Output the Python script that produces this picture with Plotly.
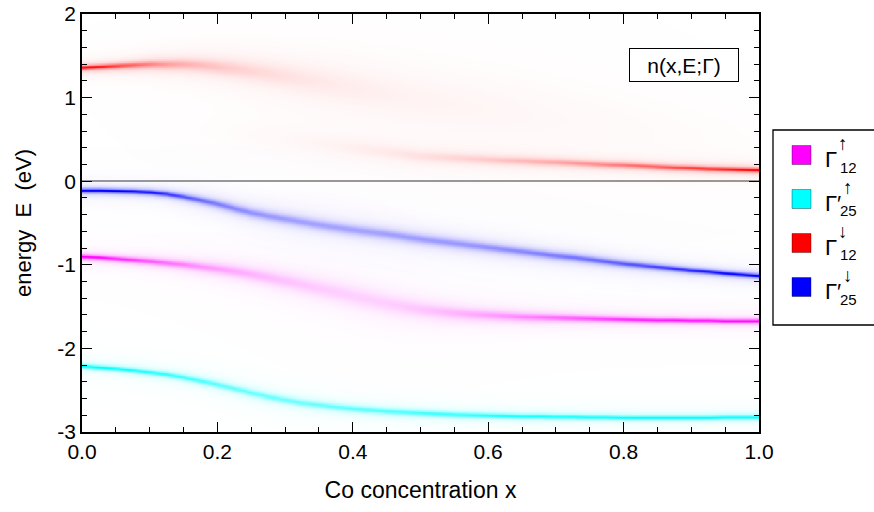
import numpy as np
import plotly.graph_objects as go

# ---------------- data ----------------
conc = [0.000, 0.025, 0.050, 0.075, 0.100, 0.125, 0.150, 0.175, 0.200, 0.225,
        0.250, 0.275, 0.300, 0.325, 0.350, 0.375, 0.400, 0.425, 0.450, 0.475,
        0.500, 0.525, 0.550, 0.575, 0.600, 0.625, 0.650, 0.675, 0.700, 0.725,
        0.750, 0.775, 0.800, 0.825, 0.850, 0.875, 0.900, 0.925, 0.950, 0.975, 1.000]

# Gamma'25 spin down (blue): band centre (eV) and broadening (eV)
blue_E = [-0.11, -0.11, -0.115, -0.12, -0.13, -0.15, -0.185, -0.225, -0.27, -0.325,
          -0.375, -0.415, -0.45, -0.485, -0.52, -0.55, -0.58, -0.605, -0.63, -0.66,
          -0.69, -0.715, -0.74, -0.765, -0.79, -0.815, -0.84, -0.865, -0.89, -0.91,
          -0.935, -0.96, -0.985, -1.005, -1.025, -1.045, -1.065, -1.08, -1.10, -1.115, -1.13]
blue_w = [0.02, 0.02, 0.02, 0.021, 0.022, 0.025, 0.029, 0.034, 0.039, 0.043,
          0.047, 0.05, 0.052, 0.054, 0.055, 0.055, 0.055, 0.055, 0.054, 0.053,
          0.052, 0.051, 0.05, 0.049, 0.047, 0.045, 0.043, 0.041, 0.039, 0.037,
          0.035, 0.033, 0.031, 0.029, 0.027, 0.025, 0.024, 0.022, 0.021, 0.02, 0.02]

# Gamma12 spin up (magenta)
mag_E = [-0.90, -0.91, -0.925, -0.94, -0.955, -0.975, -0.995, -1.02, -1.045, -1.075,
         -1.11, -1.15, -1.19, -1.235, -1.28, -1.325, -1.37, -1.415, -1.46, -1.50,
         -1.53, -1.555, -1.575, -1.59, -1.60, -1.61, -1.62, -1.625, -1.63, -1.635,
         -1.64, -1.645, -1.65, -1.655, -1.66, -1.66, -1.665, -1.665, -1.67, -1.67, -1.67]
mag_w = [0.02, 0.021, 0.023, 0.026, 0.03, 0.035, 0.04, 0.046, 0.052, 0.06,
         0.068, 0.076, 0.084, 0.092, 0.1, 0.106, 0.11, 0.11, 0.106, 0.098,
         0.088, 0.078, 0.068, 0.06, 0.053, 0.047, 0.042, 0.038, 0.034, 0.031,
         0.029, 0.027, 0.025, 0.024, 0.023, 0.022, 0.021, 0.021, 0.02, 0.02, 0.02]

# Gamma'25 spin up (cyan)
cyan_E = [-2.21, -2.225, -2.24, -2.26, -2.285, -2.31, -2.345, -2.385, -2.43, -2.48,
          -2.53, -2.575, -2.615, -2.65, -2.675, -2.70, -2.72, -2.735, -2.75, -2.76,
          -2.77, -2.78, -2.79, -2.795, -2.80, -2.805, -2.81, -2.81, -2.815, -2.815,
          -2.82, -2.82, -2.825, -2.825, -2.825, -2.825, -2.825, -2.825, -2.82, -2.82, -2.82]
cyan_w = [0.02, 0.02, 0.021, 0.022, 0.023, 0.025, 0.027, 0.029, 0.031, 0.033,
          0.034, 0.035, 0.035, 0.035, 0.034, 0.033, 0.032, 0.031, 0.03, 0.029,
          0.028, 0.027, 0.026, 0.025, 0.024, 0.023, 0.023, 0.022, 0.022, 0.021,
          0.021, 0.021, 0.021, 0.02, 0.02, 0.02, 0.02, 0.02, 0.02, 0.02, 0.02]

# Gamma12 spin down (red): Fe-like upper branch and Co-like lower branch
red_up_E = [1.36, 1.37, 1.38, 1.39, 1.40, 1.40, 1.40, 1.39, 1.37, 1.35,
            1.32, 1.29, 1.26, 1.225, 1.19, 1.155, 1.12, 1.085, 1.05, 1.015,
            0.98, 0.95, 0.92, 0.895, 0.87, 0.845, 0.82, 0.795, 0.77, 0.75,
            0.73, 0.71, 0.69, 0.67, 0.65, 0.635, 0.62, 0.61, 0.60, 0.59, 0.58]
red_up_w = [0.02, 0.022, 0.026, 0.032, 0.04, 0.05, 0.06, 0.07, 0.08, 0.095,
            0.11, 0.125, 0.14, 0.16, 0.18, 0.2, 0.22, 0.24, 0.26, 0.28,
            0.30, 0.31, 0.32, 0.33, 0.34, 0.35, 0.36, 0.37, 0.38, 0.385,
            0.39, 0.395, 0.40, 0.40, 0.40, 0.40, 0.40, 0.40, 0.40, 0.40, 0.40]
red_up_wt = [1.0, 0.99, 0.98, 0.97, 0.96, 0.95, 0.94, 0.93, 0.92, 0.90,
             0.88, 0.86, 0.84, 0.82, 0.80, 0.78, 0.76, 0.74, 0.72, 0.70,
             0.68, 0.66, 0.64, 0.62, 0.60, 0.57, 0.54, 0.51, 0.48, 0.45,
             0.42, 0.39, 0.36, 0.33, 0.30, 0.27, 0.24, 0.21, 0.18, 0.15, 0.12]
red_lo_E = [0.68, 0.67, 0.66, 0.65, 0.64, 0.63, 0.615, 0.60, 0.58, 0.56,
            0.54, 0.52, 0.50, 0.475, 0.45, 0.425, 0.40, 0.375, 0.35, 0.325,
            0.30, 0.29, 0.28, 0.27, 0.26, 0.25, 0.245, 0.235, 0.23, 0.22,
            0.21, 0.20, 0.195, 0.185, 0.175, 0.165, 0.16, 0.15, 0.145, 0.14, 0.135]
red_lo_w = [0.35, 0.34, 0.33, 0.32, 0.31, 0.295, 0.28, 0.265, 0.25, 0.23,
            0.21, 0.19, 0.17, 0.15, 0.135, 0.12, 0.105, 0.095, 0.085, 0.077,
            0.07, 0.064, 0.058, 0.053, 0.049, 0.045, 0.042, 0.039, 0.037, 0.034,
            0.032, 0.03, 0.029, 0.027, 0.026, 0.025, 0.024, 0.023, 0.022, 0.021, 0.02]
red_lo_wt = [0.0, 0.01, 0.02, 0.035, 0.05, 0.065, 0.08, 0.10, 0.12, 0.14,
             0.16, 0.18, 0.20, 0.225, 0.25, 0.275, 0.30, 0.325, 0.35, 0.375,
             0.40, 0.425, 0.45, 0.475, 0.50, 0.53, 0.56, 0.59, 0.62, 0.65,
             0.68, 0.71, 0.75, 0.78, 0.81, 0.84, 0.88, 0.91, 0.94, 0.97, 1.0]

x_ticks = [0.0, 0.2, 0.4, 0.6, 0.8, 1.0]
x_ticktext = ["0.0", "0.2", "0.4", "0.6", "0.8", "1.0"]
y_ticks = [-3, -2, -1, 0, 1, 2]
y_ticktext = ["-3", "-2", "-1", "0", "1", "2"]

legend_items = [
    ("Γ", "↑", "12", "#ff00ff"),
    ("Γ′", "↑", "25", "#00ffff"),
    ("Γ", "↓", "12", "#ff0000"),
    ("Γ′", "↓", "25", "#0000ff"),
]

# ---------------- rendering ----------------
FONT = "Liberation Sans, Arial, sans-serif"
E_grid = np.linspace(-3.0, 2.0, 601)
# finer concentration raster used only to paint the density smoothly
x_fine = np.linspace(0.0, 1.0, 241)
W_REF = 0.02


def on_fine(v):
    return np.interp(x_fine, conc, v)


def density(E0, w, wt=None):
    E0 = on_fine(E0)[None, :]
    w = on_fine(w)[None, :]
    wt = np.ones_like(w) if wt is None else on_fine(wt)[None, :]
    return wt * (W_REF / w) / (1.0 + ((E_grid[:, None] - E0) / w) ** 2)


bands = [
    (density(red_up_E, red_up_w, red_up_wt) + density(red_lo_E, red_lo_w, red_lo_wt), (255, 0, 0)),
    (density(cyan_E, cyan_w), (0, 255, 255)),
    (density(mag_E, mag_w), (255, 0, 255)),
    (density(blue_E, blue_w), (0, 0, 255)),
]

fig = go.Figure()
for z, (r, g, b) in bands:
    fig.add_trace(go.Heatmap(
        x=x_fine, y=E_grid, z=np.round(np.clip(z, 0, 1), 3),
        zmin=0, zmax=1, zsmooth="best", showscale=False, hoverinfo="skip",
        colorscale=[[0, f"rgba({r},{g},{b},0)"], [1, f"rgba({r},{g},{b},1)"]],
    ))

L, R, T, B = 82, 115, 14, 80
W, H = 874, 512
PW, PH = W - L - R, H - T - B


def px2x(px):
    return (px - L) / PW


def py2y(py):
    return (H - B - py) / PH


axis_common = dict(
    showline=True, linecolor="black", linewidth=1.5, mirror="allticks",
    ticks="inside", ticklen=10, tickwidth=1.2, tickcolor="black",
    showgrid=False, automargin=False,
    tickfont=dict(family=FONT, size=21, color="black"),
)

fig.update_xaxes(
    range=[0, 1], tickmode="array", tickvals=x_ticks, ticktext=x_ticktext,
    zeroline=False,
    minor=dict(ticks="inside", ticklen=5, tickwidth=1, tickcolor="black", dtick=0.05, tick0=0, showgrid=False),
    title=dict(text="Co concentration x", font=dict(family=FONT, size=23, color="black"), standoff=20),
    **axis_common,
)
fig.update_yaxes(
    range=[-3, 2], tickmode="array", tickvals=y_ticks, ticktext=y_ticktext,
    zeroline=True, zerolinecolor="#9a9a9a", zerolinewidth=1.5,
    minor=dict(ticks="inside", ticklen=5, tickwidth=1, tickcolor="black", dtick=0.2, tick0=0, showgrid=False),
    title=dict(text="energy  E  (eV)", font=dict(family=FONT, size=22, color="black"), standoff=20),
    **axis_common,
)

shapes = []
annotations = []

# legend frame
shapes.append(dict(type="rect", xref="paper", yref="paper",
                   x0=px2x(773), x1=px2x(884), y0=py2y(325), y1=py2y(130),
                   line=dict(color="black", width=1.3), fillcolor="white"))
for i, (base, arrow, sub, col) in enumerate(legend_items):
    cy = 155 + 44 * i
    shapes.append(dict(type="rect", xref="paper", yref="paper",
                       x0=px2x(792), x1=px2x(811), y0=py2y(cy + 9.5), y1=py2y(cy - 9.5),
                       line=dict(color="rgba(0,0,0,0.35)", width=1), fillcolor=col))
    annotations.append(dict(text=base, xref="paper", yref="paper", x=px2x(823), y=py2y(cy + 4),
                            xanchor="left", yanchor="middle", showarrow=False,
                            font=dict(family=FONT, size=22, color="black")))
    ax = 836 if base == "Γ" else 841
    annotations.append(dict(text=arrow, xref="paper", yref="paper", x=px2x(ax), y=py2y(cy - 12),
                            xanchor="left", yanchor="middle", showarrow=False,
                            font=dict(family=FONT, size=19, color="black")))
    annotations.append(dict(text=sub, xref="paper", yref="paper", x=px2x(838), y=py2y(cy + 12),
                            xanchor="left", yanchor="middle", showarrow=False,
                            font=dict(family=FONT, size=15, color="black")))

# density label box
annotations.append(dict(text="n(x,E;Γ)", xref="paper", yref="paper", x=px2x(683.5), y=py2y(65),
                        xanchor="center", yanchor="middle", showarrow=False,
                        width=106, height=30, borderpad=1, bordercolor="black", borderwidth=1,
                        bgcolor="white", font=dict(family=FONT, size=21, color="black")))

fig.update_layout(
    width=W, height=H, autosize=False,
    margin=dict(l=L, r=R, t=T, b=B, pad=0),
    paper_bgcolor="white", plot_bgcolor="white",
    showlegend=False, shapes=shapes, annotations=annotations,
    font=dict(family=FONT, color="black"),
)

fig.write_html("out.html")
